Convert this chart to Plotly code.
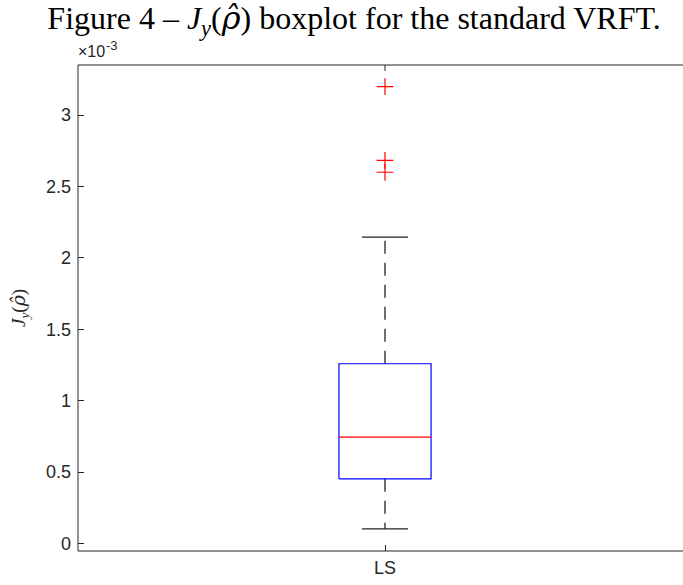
import plotly.graph_objects as go

# ---- data (values in absolute units) ----
categories = ["LS"]
q1_vals = [0.453e-3]
median_vals = [0.745e-3]
q3_vals = [1.259e-3]
lower_whisker = [0.103e-3]
upper_whisker = [2.145e-3]
outliers = [[2.60e-3, 2.683e-3, 3.20e-3]]
ytick_vals = [0, 0.5e-3, 1e-3, 1.5e-3, 2e-3, 2.5e-3, 3e-3]
ytick_text = ["0", "0.5", "1", "1.5", "2", "2.5", "3"]

BOX_HALF = 0.075
CAP_HALF = 0.0375

fig = go.Figure()
for i, cat in enumerate(categories):
    xc = i + 1
    fig.add_trace(go.Scatter(
        x=[xc, xc, None, xc, xc],
        y=[q3_vals[i], upper_whisker[i], None, q1_vals[i], lower_whisker[i]],
        mode="lines", line=dict(color="#222222", width=1.3, dash="13px,9px"),
        hoverinfo="skip", showlegend=False))
    fig.add_trace(go.Scatter(
        x=[xc - CAP_HALF, xc + CAP_HALF, None, xc - CAP_HALF, xc + CAP_HALF],
        y=[upper_whisker[i], upper_whisker[i], None, lower_whisker[i], lower_whisker[i]],
        mode="lines", line=dict(color="#222222", width=1.3),
        hoverinfo="skip", showlegend=False))
    fig.add_trace(go.Scatter(
        x=[xc - BOX_HALF, xc + BOX_HALF, xc + BOX_HALF, xc - BOX_HALF, xc - BOX_HALF],
        y=[q1_vals[i], q1_vals[i], q3_vals[i], q3_vals[i], q1_vals[i]],
        mode="lines", line=dict(color="#0000ff", width=1.2),
        hoverinfo="skip", showlegend=False))
    fig.add_trace(go.Scatter(
        x=[xc - BOX_HALF, xc + BOX_HALF],
        y=[median_vals[i], median_vals[i]],
        mode="lines", line=dict(color="#ff0000", width=1.2),
        hoverinfo="skip", showlegend=False))
    fig.add_trace(go.Scatter(
        x=[xc] * len(outliers[i]), y=outliers[i],
        mode="markers",
        marker=dict(symbol="cross-thin", size=12, line=dict(color="#ff0000", width=1.2)),
        hoverinfo="skip", showlegend=False))

W, H = 683, 585
L, T, B = 78, 65, 34
plot_w = W - L
plot_h = H - T - B

RHO_HAT = '<span style="font-family:DejaVu Serif">ρ̂</span>'
AX = "#262626"

def px_x(px):
    return (px - L) / plot_w

def px_y(py):
    return (H - B - py) / plot_h

fig.update_layout(
    width=W, height=H,
    margin=dict(l=L, r=0, t=T, b=B, pad=0),
    paper_bgcolor="white", plot_bgcolor="white",
    font=dict(family="Liberation Sans, Arial, sans-serif", size=18, color=AX),
    title=dict(
        text="Figure 4 – <i>J</i><sub><i>y</i></sub>(<i>" + RHO_HAT + "</i>) boxplot for the standard VRFT.",
        x=354 / W, xanchor="center", xref="container",
        y=1 - 18 / H, yanchor="middle",
        font=dict(family="Liberation Serif, Times New Roman, serif", size=32, color="black")),
    xaxis=dict(
        range=[0.5, 0.5 + plot_w / 614], tickvals=[1], ticktext=categories,
        ticks="inside", ticklen=6, tickcolor=AX, tickwidth=1,
        showline=False, mirror=False,
        showgrid=False, zeroline=False, fixedrange=True, ticklabelstandoff=4,
        tickfont=dict(size=18)),
    yaxis=dict(
        range=[-0.0525e-3, 3.351e-3], tickvals=ytick_vals, ticktext=ytick_text,
        ticks="inside", ticklen=6, tickcolor=AX, tickwidth=1,
        showline=False, mirror=False,
        showgrid=False, zeroline=False, fixedrange=True, ticklabelstandoff=6,
        tickfont=dict(size=18)),
    shapes=[
        # white strip hiding the right frame edge (the reference is cropped there)
        dict(type="rect", xref="paper", yref="paper", x0=px_x(679), x1=1.01,
             y0=0.003, y1=0.997, fillcolor="white", line=dict(width=0), layer="above"),
        # axes box: left, bottom, top
        dict(type="line", xref="paper", yref="paper", x0=0, x1=0, y0=0, y1=1,
             line=dict(color=AX, width=1)),
        dict(type="line", xref="paper", yref="paper", x0=0, x1=1, y0=0, y1=0,
             line=dict(color=AX, width=1)),
        dict(type="line", xref="paper", yref="paper", x0=0, x1=1, y0=1, y1=1,
             line=dict(color=AX, width=1)),
        dict(type="line", xref="x", yref="paper", x0=1, x1=1, y0=1, y1=1 - 6 / plot_h,
             line=dict(color=AX, width=1)),
    ],
    annotations=[
        dict(text="×10", xref="paper", yref="paper",
             x=px_x(76), y=px_y(52), xanchor="left", yanchor="middle",
             showarrow=False, font=dict(size=16, color=AX)),
        dict(text="-3", xref="paper", yref="paper",
             x=px_x(104), y=px_y(45.5), xanchor="left", yanchor="middle",
             showarrow=False, font=dict(size=13, color=AX)),
        dict(text="<i>J</i><sub><i>y</i></sub>(<i>" + RHO_HAT + "</i>)", xref="paper", yref="paper",
             x=px_x(19), y=0.5, xanchor="center", yanchor="middle", textangle=-90,
             showarrow=False,
             font=dict(family="Liberation Serif, Times New Roman, serif", size=19, color=AX)),
    ],
)

fig.write_html("out.html", config={"displayModeBar": False})
